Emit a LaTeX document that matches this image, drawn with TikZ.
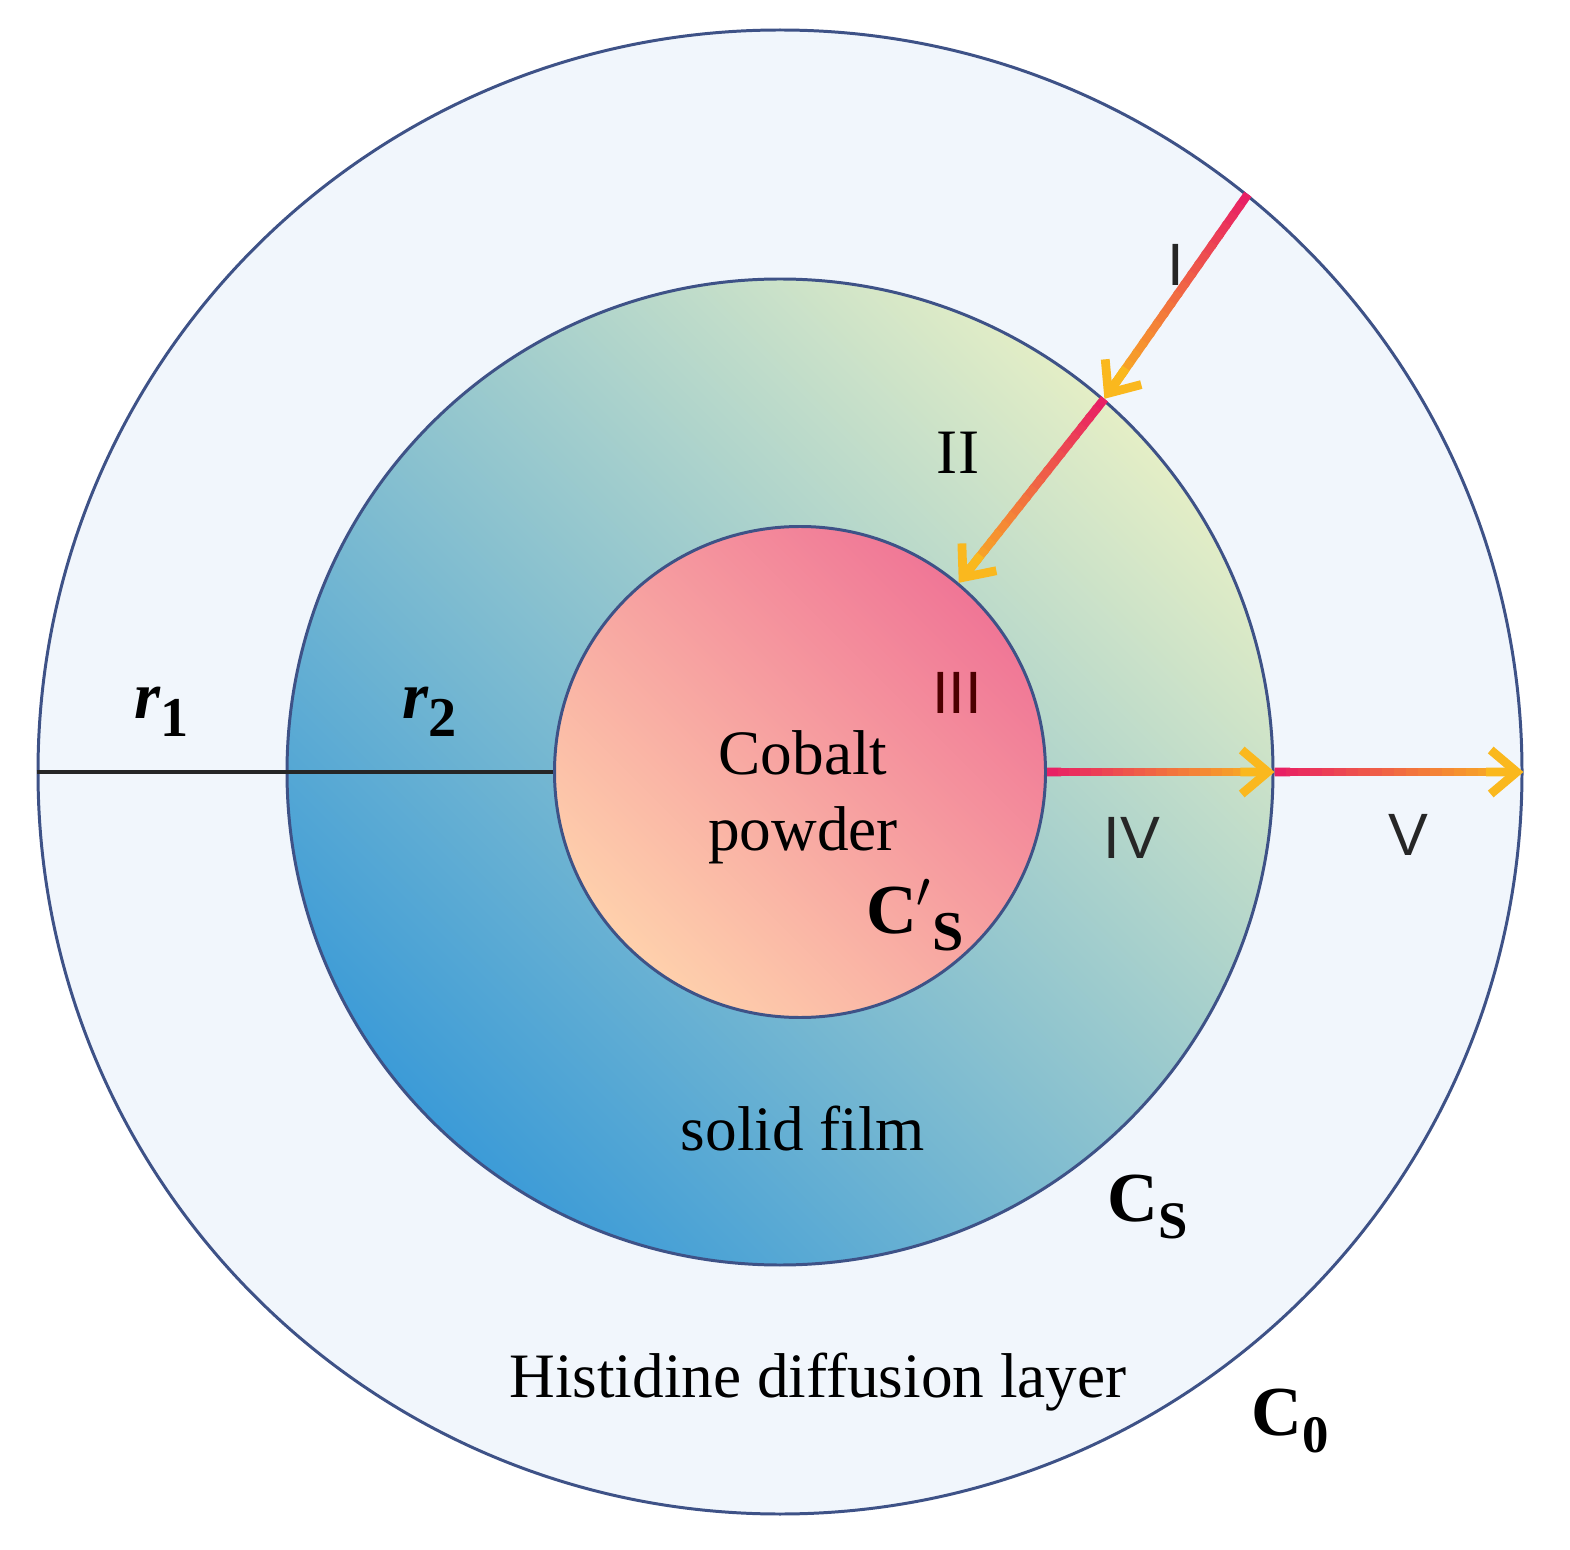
\documentclass[tikz,border=0pt]{standalone}
\usepackage{fontspec}
\setmainfont{Liberation Serif}
\setsansfont{Liberation Sans}
\usepackage{amsmath,amssymb}
\usepackage{xcolor}
\usetikzlibrary{arrows.meta,calc,positioning}

\definecolor{layerfill}{RGB}{241,246,252}
\definecolor{rim}{RGB}{62,82,135}
\definecolor{filmdark}{RGB}{60,155,215}
\definecolor{filmlight}{RGB}{228,238,198}
\definecolor{corelight}{RGB}{254,208,172}
\definecolor{coredark}{RGB}{240,118,150}
\definecolor{arrowbeg}{RGB}{232,32,100}
\definecolor{arrowend}{RGB}{250,184,30}

% gradient arrow between two named points
\newcommand{\fluxarrow}[2]{%
  \foreach \i in {0,...,19}{
    \pgfmathsetmacro{\s}{\i/20*0.96}
    \pgfmathsetmacro{\e}{(\i+1.3)/20*0.96}
    \pgfmathtruncatemacro{\p}{100-5*\i}
    \draw[fluxseg,arrowbeg!\p!arrowend] ($(#1)!\s!(#2)$) -- ($(#1)!\e!(#2)$);
  }
  \draw[fluxtip] ($(#1)!0.85!(#2)$) -- (#2);
}

\begin{document}
\begin{tikzpicture}[
  shell/.style={circle,draw=rim,line width=0.85pt,inner sep=0pt,minimum size=#1},
  fluxseg/.style={line width=2.5pt},
  fluxtip/.style={arrowend,line width=2.5pt,-{Straight Barb[length=2.6mm,width=4.4mm]}},
  lbl/.style={font=\fontsize{18}{21.6}\selectfont,align=center},
  num/.style={font=\sffamily\fontsize{17}{20}\selectfont,text=black!85},
  conc/.style={font=\bfseries\fontsize{20}{24}\selectfont},
  rad/.style={font=\bfseries\itshape\fontsize{19}{22}\selectfont}]
  \useasboundingbox (0,0) rectangle (15.70,15.49);

  % the three layers
  \node[shell=14.84cm,fill=layerfill] (outer) at (7.80,7.77) {};
  \node[shell=9.86cm,bottom color=filmdark,top color=filmlight,shading angle=-45] (film) at (7.80,7.77) {};
  \node[shell=4.91cm,bottom color=corelight,top color=coredark,shading angle=-45] (core) at (8.00,7.77) {};

  % radius line
  \draw[line width=1.1pt,black!85] (outer.west) -- (core.west);

  % diffusion arrows
  \fluxarrow{outer.51}{film.49}
  \fluxarrow{film.49}{core.50}
  \fluxarrow{core.east}{film.east}
  \fluxarrow{film.east}{outer.east}

  % labels
  \node[rad] (r1) at (1.62,8.37) {r\raisebox{-0.6ex}{\upshape\fontsize{16}{18}\selectfont 1}};
  \node[rad] (r2) at (4.30,8.37) {r\raisebox{-0.6ex}{\upshape\fontsize{16}{18}\selectfont 2}};
  \node[num] (n1) at (11.76,12.84) {I};
  \node[lbl] (n2) at (9.58,10.96) {II};
  \node[num,text=black!70!red] (n3) at (9.57,8.56) {III};
  \node[num] (n4) at (11.32,7.11) {IV};
  \node[num] (n5) at (14.08,7.14) {V};
  \node[lbl] (cobalt) at (8.03,7.52) {Cobalt\\powder};
  \node[conc] (cps) at (9.15,6.34) {C$'$\raisebox{-0.5ex}{\fontsize{16}{18}\selectfont S}};
  \node[lbl] (film lbl) at (8.03,4.20) {solid film};
  \node[conc] (cs) at (11.48,3.42) {C\raisebox{-0.5ex}{\fontsize{15}{18}\selectfont S}};
  \node[lbl] (layer lbl) at (8.18,1.67) {Histidine diffusion layer};
  \node[conc] (c0) at (12.90,1.28) {C\raisebox{-0.5ex}{\fontsize{15}{18}\selectfont 0}};
\end{tikzpicture}
\end{document}
